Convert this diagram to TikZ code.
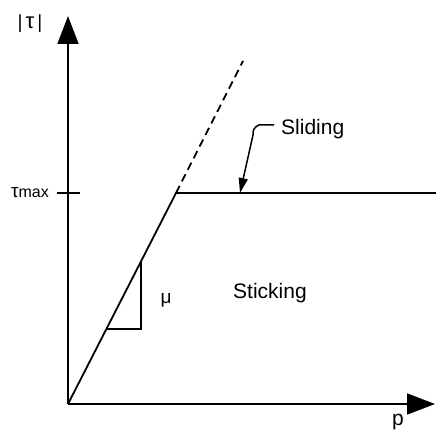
\documentclass[tikz,border=0pt]{standalone}
\usepackage{fontspec}
\setmainfont{Liberation Sans}
\usetikzlibrary{arrows.meta}
\begin{document}
\begin{tikzpicture}[x=1pt,y=-1pt,
  axis/.style={line width=1.8pt,-{Triangle[length=28pt,width=21pt]}},
  curve/.style={line width=1.8pt},
  lbl/.style={inner sep=0pt,font=\fontsize{21}{23}\selectfont},
  small/.style={inner sep=0pt,font=\fontsize{19}{21}\selectfont}]
\useasboundingbox (0,0) rectangle (436,430);
\coordinate (O) at (68,404);
\coordinate (ytip) at (68,16);
\coordinate (xtip) at (435,404);
\coordinate (K) at (176,193);
\coordinate (D) at (243,61);
\coordinate (R) at (436,193);
\coordinate (tL) at (57,193);
\coordinate (tR) at (80,193);
\coordinate (A) at (106.5,329);
\coordinate (B) at (141,329);
\coordinate (C) at (141,262);
\coordinate (sh) at (274,125);
\coordinate (sk) at (259,125);
\coordinate (stip) at (240,193);
\draw[axis] (O) -- (ytip);
\draw[axis] (O) -- (xtip);
\draw[curve] (O) -- (K) -- (R);
\draw[curve,dash pattern=on 8pt off 5pt] (K) -- (D);
\draw[curve] (tL) -- (tR);
\draw[curve] (A) -- (B) -- (C);
\draw[line width=1.5pt,-{Triangle[length=15pt,width=9pt]}] (sh) -- (sk) to[out=200,in=100] (253,135) -- (stip);
\node[small,anchor=center] (tau) at (30,24) {|\hspace{3pt}{\fontsize{22}{24}\selectfont τ}\hspace{3pt}|};
\node[inner sep=0pt,anchor=east,font=\fontsize{19}{21}\selectfont] (tmax) at (49,193) {τ{\fontsize{16}{18}\selectfont max}};
\node[small,anchor=center] (mu) at (166,300) {μ};
\node[lbl,anchor=base west] (sliding) at (281,135) {Sliding};
\node[lbl,anchor=base] (sticking) at (270,298) {Sticking};
\node[lbl,anchor=base] (p) at (398,425) {p};
\end{tikzpicture}
\end{document}
